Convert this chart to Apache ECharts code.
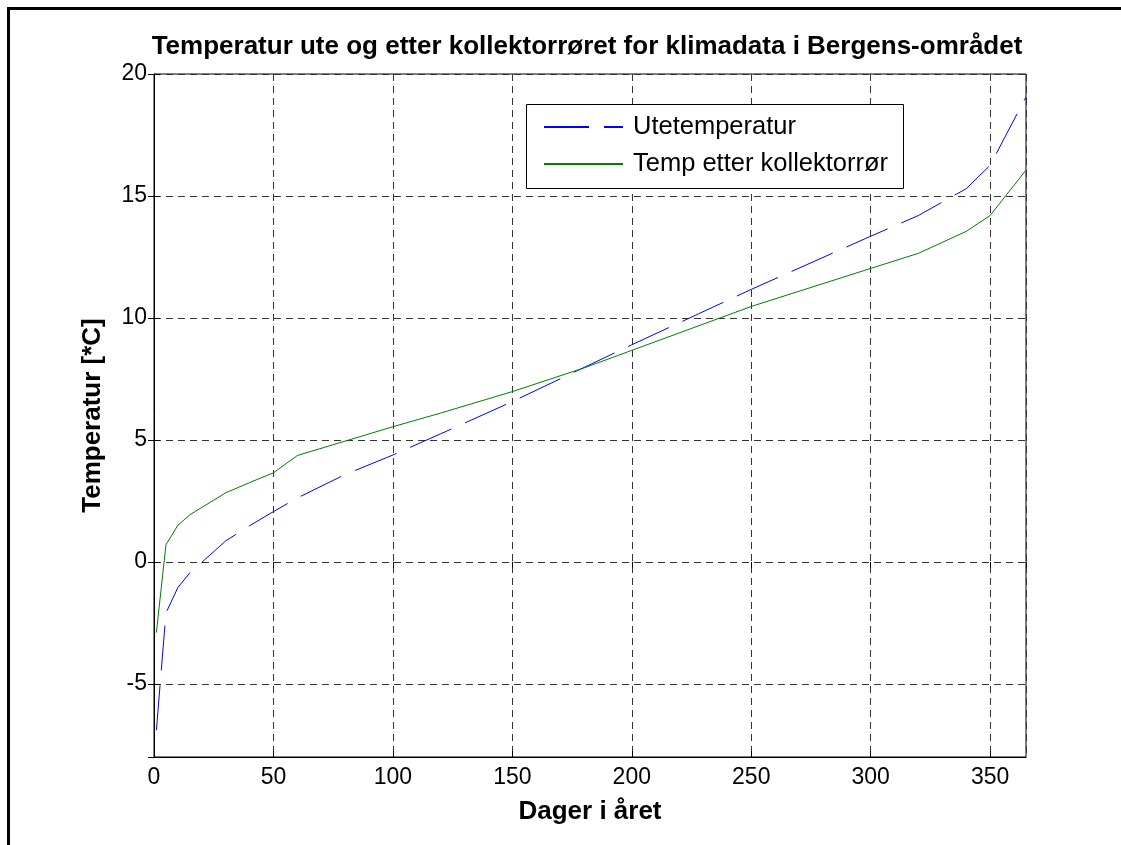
<!DOCTYPE html>
<html>
<head>
<meta charset="utf-8">
<script src="https://cdn.jsdelivr.net/npm/echarts@6/dist/echarts.min.js"></script>
<style>
  html, body { margin: 0; padding: 0; background: #fff; }
  #chart { width: 1121px; height: 845px; }
</style>
</head>
<body>
<div id="chart"></div>
<script>
// dager i året
var days = [1, 5, 10, 15, 20, 30, 40, 50, 60, 80, 100, 120, 150, 180, 200, 250, 300, 320, 340, 350, 365];
// utetemperatur
var ute = [-6.9, -2.1, -1.05, -0.45, -0.02, 0.86, 1.48, 2.06, 2.62, 3.58, 4.38, 5.25, 6.57, 7.97, 8.9, 11.17, 13.35, 14.2, 15.3, 16.26, 19.06];
// temp etter kollektorrør
var kollektor = [-2.9, 0.7, 1.5, 1.93, 2.23, 2.83, 3.25, 3.65, 4.36, 4.95, 5.54, 6.1, 6.98, 7.95, 8.67, 10.47, 12.03, 12.65, 13.55, 14.2, 16.06];

var font = "'Liberation Sans', Arial, sans-serif";

function pairs(xs, ys) {
  var out = [];
  for (var i = 0; i < xs.length; i++) out.push([xs[i], ys[i]]);
  return out;
}

var myChart = echarts.init(document.getElementById('chart'));

var option = {
  backgroundColor: '#fff',
  animation: false,
  textStyle: { fontFamily: font },
  title: {
    text: 'Temperatur ute og etter kollektorrøret for klimadata i Bergens-området',
    left: 582,
    textAlign: 'center',
    top: 29,
    textStyle: { fontFamily: font, fontSize: 26, fontWeight: 'bold', color: '#000' }
  },
  grid: {
    left: 154, right: 95, top: 74, bottom: 88,
    show: true, borderColor: '#000', borderWidth: 1
  },
  legend: {
    orient: 'vertical',
    left: 543,
    top: 114,
    padding: 0,
    itemWidth: 79,
    itemHeight: 26,
    itemGap: 11,
    z: 5,
    itemStyle: { color: 'transparent', borderWidth: 0, opacity: 0 },
    textStyle: { fontFamily: font, fontSize: 25.5, color: '#000', lineHeight: 26, padding: [0, 0, 0, 5] },
    data: ['Utetemperatur', 'Temp etter kollektorrør']
  },
  graphic: [
    { type: 'rect', z: 3, shape: { x: 526.5, y: 104.5, width: 377, height: 84 },
      style: { fill: '#fff', stroke: '#000', lineWidth: 1 } },
    { type: 'line', z: 10, shape: { x1: 7, y1: 8.5, x2: 1121, y2: 8.5 }, style: { stroke: '#000', lineWidth: 3 } },
    { type: 'line', z: 10, shape: { x1: 8.5, y1: 7, x2: 8.5, y2: 845 }, style: { stroke: '#000', lineWidth: 3 } }
  ],
  xAxis: [{
    type: 'value', min: 0, max: 365, interval: 50,
    name: 'Dager i året', nameLocation: 'middle', nameGap: 42,
    nameTextStyle: { fontFamily: font, fontSize: 26, fontWeight: 'bold', color: '#000' },
    axisLine: { show: true, onZero: false, lineStyle: { color: '#000', width: 1 } },
    axisTick: { inside: true, length: 6, lineStyle: { color: '#000' } },
    axisLabel: { color: '#000', fontSize: 23, margin: 9, showMaxLabel: false, fontFamily: font },
    splitLine: { show: true, lineStyle: { color: '#333', type: [7, 5], width: 1 } }
  }, {
    type: 'value', min: 0, max: 365, interval: 50, position: 'top',
    axisLine: { show: false },
    axisTick: { inside: true, length: 6, lineStyle: { color: '#000' } },
    axisLabel: { show: false },
    splitLine: { show: false }
  }],
  yAxis: [{
    type: 'value', min: -8, max: 20,
    name: 'Temperatur [*C]', nameLocation: 'middle', nameGap: 48, nameRotate: 90,
    nameTextStyle: { fontFamily: font, fontSize: 26, fontWeight: 'bold', color: '#000' },
    axisLine: { show: true, onZero: false, lineStyle: { color: '#000', width: 1 } },
    axisTick: { inside: true, length: 6, lineStyle: { color: '#000' } },
    axisLabel: { color: '#000', fontSize: 23, margin: 7, showMinLabel: false, fontFamily: font },
    splitLine: { show: true, lineStyle: { color: '#333', type: [7, 5], width: 1 } }
  }, {
    type: 'value', min: -8, max: 20, position: 'right',
    axisLine: { show: false },
    axisTick: { inside: true, length: 6, lineStyle: { color: '#000' } },
    axisLabel: { show: false },
    splitLine: { show: false }
  }],
  series: [{
    name: 'Utetemperatur',
    type: 'line',
    symbol: 'none',
    z: 2,
    color: '#0000ff',
    lineStyle: { color: '#0000ff', width: 1, type: [45, 15] },
    data: pairs(days, ute)
  }, {
    name: 'Temp etter kollektorrør',
    type: 'line',
    symbol: 'none',
    z: 2,
    color: '#008000',
    lineStyle: { color: '#008000', width: 1 },
    data: pairs(days, kollektor)
  }]
};

myChart.setOption(option);
</script>
</body>
</html>
